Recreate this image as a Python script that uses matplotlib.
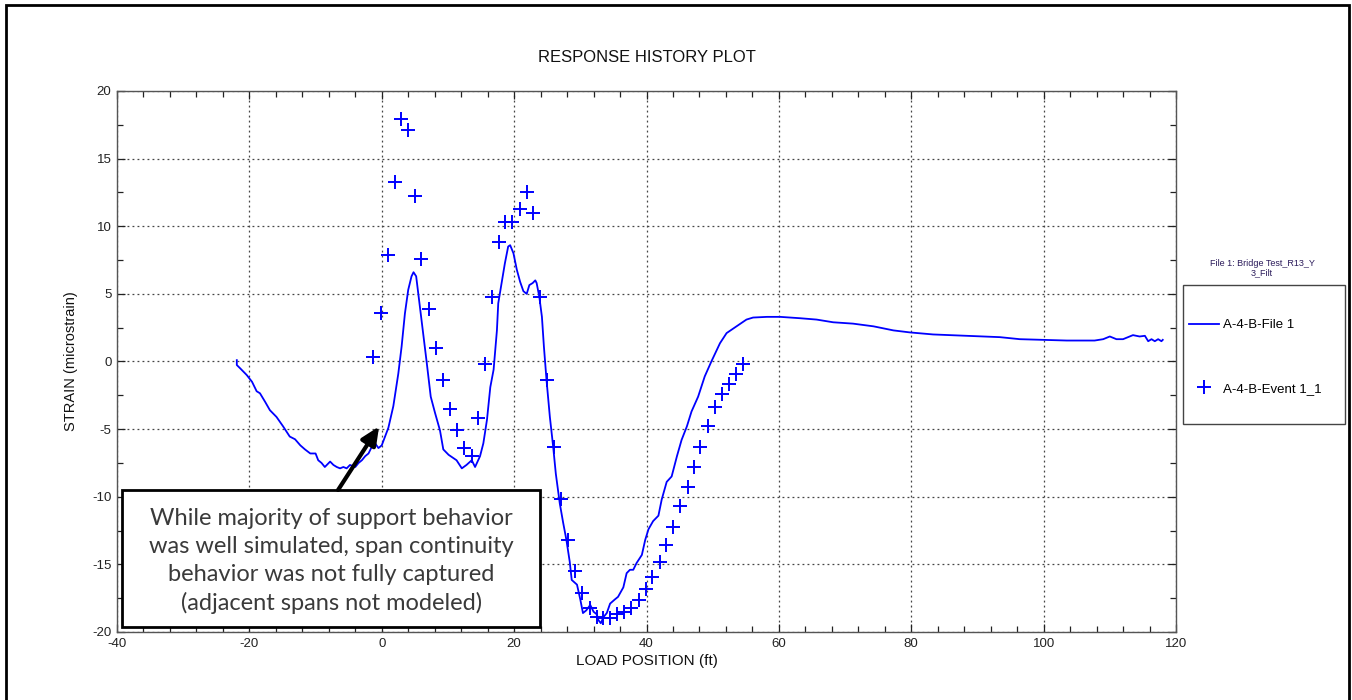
import matplotlib
matplotlib.use("Agg")
import matplotlib.pyplot as plt
from matplotlib.lines import Line2D
from matplotlib.patches import Rectangle
from matplotlib.ticker import MultipleLocator

plt.rcParams['font.family'] = ['Liberation Sans', 'DejaVu Sans']
plt.rcParams['axes.unicode_minus'] = False

# ---- data ----
line_x = [-21.9, -21.9, -21.4, -20.4, -19.6, -18.9, -18.4, -17.6, -16.9, -15.9,
          -14.9, -13.9, -13.1, -12.3, -11.6, -10.8, -10.0, -9.6, -9.1, -8.6,
          -7.8, -7.3, -6.8, -6.3, -5.8, -5.3, -4.8, -4.0, -3.5, -3.0,
          -2.5, -2.0, -1.5, -1.0, -0.5, 0.0, 0.5, 1.0, 1.75, 2.5,
          3.0, 3.5, 4.0, 4.5, 4.8, 5.2, 5.7, 6.2, 6.8, 7.4,
          8.05, 8.8, 9.3, 10.1, 11.3, 12.1, 12.8, 13.6, 14.1, 14.85,
          15.35, 15.9, 16.4, 16.9, 17.4, 17.6, 18.1, 18.6, 19.1, 19.4,
          19.9, 20.4, 20.9, 21.4, 21.9, 22.3, 22.8, 23.2, 23.4, 23.8,
          24.2, 24.5, 24.9, 25.4, 25.9, 26.3, 26.9, 27.4, 27.9, 28.4,
          28.7, 29.5, 30.0, 30.4, 30.9, 31.5, 32.0, 32.5, 32.7, 33.1,
          33.5, 34.0, 34.5, 35.2, 35.7, 36.5, 37.0, 37.5, 38.0, 38.5,
          39.3, 39.8, 40.3, 41.0, 41.8, 42.3, 43.05, 43.8, 44.6, 45.3,
          46.1, 46.8, 47.8, 48.8, 49.8, 51.1, 52.1, 53.6, 55.1, 56.1,
          58.2, 60.2, 61.7, 63.2, 65.7, 68.2, 71.2, 74.3, 77.3, 79.8,
          83.3, 88.4, 93.4, 96.4, 99.9, 103.5, 107.7, 109.0, 110.0, 111.0,
          112.0, 113.5, 114.5, 115.3, 115.8, 116.3, 116.8, 117.3, 117.8, 118.0]
line_y = [0.1, -0.26, -0.5, -1.0, -1.5, -2.2, -2.35, -3.0, -3.6, -4.1,
          -4.8, -5.55, -5.75, -6.2, -6.5, -6.8, -6.8, -7.3, -7.5, -7.8,
          -7.4, -7.65, -7.8, -7.9, -7.8, -7.9, -7.65, -7.8, -7.5, -7.3,
          -7.0, -6.8, -6.3, -6.05, -6.4, -6.2, -5.55, -4.9, -3.3, -0.9,
          1.1, 3.55, 5.3, 6.3, 6.6, 6.3, 4.3, 2.3, -0.1, -2.6,
          -3.8, -5.1, -6.5, -6.9, -7.3, -7.9, -7.65, -7.3, -7.8, -7.0,
          -6.05, -4.3, -1.9, -0.6, 2.3, 4.3, 5.8, 7.25, 8.5, 8.6,
          8.0, 6.8, 5.9, 5.2, 5.0, 5.65, 5.8, 6.0, 5.8, 4.8,
          3.3, 1.1, -1.4, -4.1, -6.3, -8.3, -10.5, -11.9, -13.2, -14.8,
          -16.15, -16.5, -17.6, -18.6, -18.4, -18.0, -18.5, -18.7, -19.1, -19.35,
          -18.9, -18.6, -17.9, -17.6, -17.4, -16.7, -15.65, -15.4, -15.4, -14.9,
          -14.3, -13.2, -12.4, -11.8, -11.4, -10.2, -8.9, -8.5, -7.0, -5.8,
          -4.8, -3.7, -2.6, -1.1, 0.0, 1.35, 2.1, 2.6, 3.1, 3.25,
          3.3, 3.3, 3.25, 3.2, 3.1, 2.9, 2.8, 2.6, 2.3, 2.15,
          2.0, 1.9, 1.8, 1.65, 1.6, 1.55, 1.55, 1.65, 1.85, 1.65,
          1.65, 1.95, 1.85, 1.9, 1.5, 1.65, 1.5, 1.65, 1.5, 1.6]

event_x = [-1.3, -0.1, 0.9, 2.0, 2.9, 4.0, 5.0, 6.0, 7.1, 8.2,
           9.2, 10.3, 11.3, 12.5, 13.6, 14.6, 15.6, 16.7, 17.7, 18.6,
           19.7, 20.9, 21.9, 22.9, 23.9, 25.0, 26.0, 27.1, 28.1, 29.2,
           30.3, 31.4, 32.5, 33.5, 34.5, 35.6, 36.6, 37.7, 38.9, 39.9,
           40.9, 42.0, 43.0, 44.0, 45.1, 46.2, 47.2, 48.1, 49.3, 50.4,
           51.4, 52.5, 53.5, 54.6]
event_y = [0.3, 3.6, 7.9, 13.3, 17.9, 17.1, 12.2, 7.6, 3.9, 1.0,
           -1.4, -3.5, -5.1, -6.4, -7.0, -4.2, -0.2, 4.8, 8.8, 10.3,
           10.3, 11.3, 12.5, 11.0, 4.8, -1.4, -6.3, -10.2, -13.2, -15.5,
           -17.1, -18.2, -18.9, -19.0, -19.0, -18.7, -18.5, -18.2, -17.6, -16.8,
           -15.9, -14.8, -13.6, -12.2, -10.7, -9.3, -7.8, -6.3, -4.8, -3.4,
           -2.4, -1.7, -0.9, -0.2]

line_label = "A-4-B-File 1"
event_label = "A-4-B-Event 1_1"
legend_title = "File 1: Bridge Test_R13_Y\n3_Filt"
title = "RESPONSE HISTORY PLOT"
xlabel = "LOAD POSITION (ft)"
ylabel = "STRAIN (microstrain)"
note = ("While majority of support behavior\nwas well simulated, span continuity\n"
        "behavior was not fully captured\n(adjacent spans not modeled)")

# ---- figure ----
W, H = 1352, 700
fig = plt.figure(figsize=(W / 100, H / 100), dpi=100)
ax = fig.add_axes([117 / W, 1 - 632 / H, (1176 - 117) / W, (632 - 91) / H])

ax.plot(line_x, line_y, color='#0000ff', lw=1.3, label=line_label, zorder=3)
ax.plot(event_x, event_y, ls='none', marker='+', ms=10, mew=1.4,
        color='#0000ff', label=event_label, zorder=3)

ax.set_xlim(-40, 120)
ax.set_ylim(-20, 20)
ax.xaxis.set_major_locator(MultipleLocator(20))
ax.xaxis.set_minor_locator(MultipleLocator(4))
ax.yaxis.set_major_locator(MultipleLocator(5))
ax.yaxis.set_minor_locator(MultipleLocator(2.5))
ax.tick_params(which='both', direction='in', top=True, right=True,
               labelsize=9.5, colors='#222222', pad=4)
ax.tick_params(which='major', length=6, width=0.9)
ax.tick_params(which='minor', length=4, width=0.9)
ax.grid(True, which='major', ls=(0, (1.5, 2.5)), color='#444444', lw=0.9)
for s in ax.spines.values():
    s.set_color('#555555')
    s.set_linewidth(1.0)

ax.set_title(title, fontsize=12, pad=21, color='#111111')
ax.set_xlabel(xlabel, fontsize=11, labelpad=3, color='#111111')
ax.set_ylabel(ylabel, fontsize=10.5, labelpad=0, color='#111111')
ax.yaxis.set_label_coords(-(117 - 78) / (1176 - 117), 0.5)

# legend (frame drawn separately to match the wide top/bottom padding)
handles = [Line2D([], [], color='#0000ff', lw=1.3),
           Line2D([], [], ls='none', marker='+', ms=10, mew=1.4, color='#0000ff')]
leg = fig.legend(handles, [line_label, event_label], loc='center left',
                 bbox_to_anchor=(1189 / W, 1 - 357 / H),
                 fontsize=9.5, frameon=False, labelspacing=3.9,
                 borderpad=0, handlelength=2.3, handletextpad=0.3,
                 borderaxespad=0)
fig.patches.append(Rectangle((1183 / W, 1 - 424 / H), 162 / W, 139 / H,
                             transform=fig.transFigure, fill=False,
                             edgecolor='#444444', lw=1.0))
fig.text(1262 / W, 1 - 268 / H, legend_title, ha='center', va='center',
         fontsize=6.5, color='#2a1a5a', linespacing=1.1)

# annotation box
ax.add_patch(Rectangle((-39.2, -19.65), 63.1, 10.15, facecolor='white',
                       edgecolor='black', lw=2, zorder=5, clip_on=False))
ax.text(-7.6, -14.75, note, ha='center', va='center', fontsize=17,
        family=['Lato', 'DejaVu Sans'], weight='normal', color='#3a3a3a',
        linespacing=1.42, zorder=6)
ax.annotate('', xy=(-0.4, -4.8), xytext=(-6.6, -9.5),
            arrowprops=dict(arrowstyle='-|>,head_length=1.1,head_width=0.5',
                            color='black', lw=3, shrinkA=0, shrinkB=0), zorder=6)

# outer frame
fig.patches.append(Rectangle((6 / W, -0.01), (1349 - 6) / W, 1 - 5 / H + 0.01,
                             transform=fig.transFigure, fill=False,
                             edgecolor='black', lw=2))

fig.savefig('out.png', dpi=100)
